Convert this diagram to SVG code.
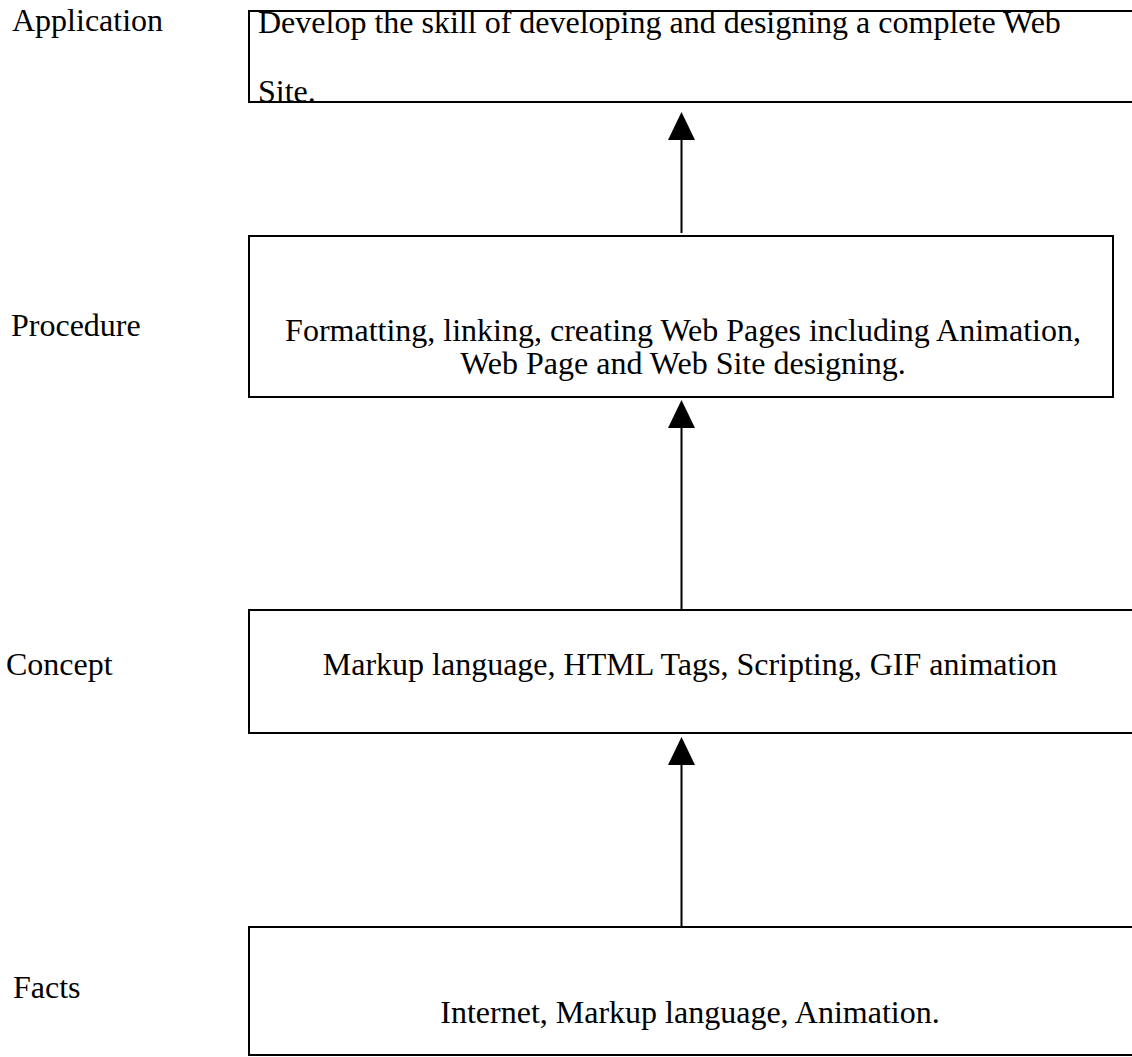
<svg xmlns="http://www.w3.org/2000/svg" width="1132" height="1057" viewBox="0 0 1132 1057">
<style>
  .box { fill: #fff; stroke: #000; stroke-width: 2; }
  .t { font-family: "Liberation Serif", "Times New Roman", serif; font-size: 32px; fill: #000; }
  .c { text-anchor: middle; }
  .conn { stroke: #000; stroke-width: 2; fill: none; }
  .head { fill: #000; }
</style>
<rect width="1132" height="1057" fill="#fff"/>

<g id="labels">
  <text class="t" x="12" y="31">Application</text>
  <text class="t" x="11" y="336">Procedure</text>
  <text class="t" x="6" y="675">Concept</text>
  <text class="t" x="13" y="998">Facts</text>
</g>

<g id="node-application">
  <path class="box" d="M1133,11 L249,11 L249,102 L1133,102"/>
  <text class="t" x="258" y="33">Develop the skill of developing and designing a complete Web</text>
  <text class="t" x="258" y="102">Site.</text>
  <path d="M249,102 L1133,102" stroke="#000" stroke-width="2"/>
</g>

<g id="node-procedure">
  <rect class="box" x="249" y="236" width="864" height="161"/>
  <text class="t c" x="683" y="341">Formatting, linking, creating Web Pages including Animation,</text>
  <text class="t c" x="683" y="374">Web Page and Web Site designing.</text>
</g>

<g id="node-concept">
  <path class="box" d="M1133,610 L249,610 L249,733 L1133,733"/>
  <text class="t c" x="690" y="675">Markup language, HTML Tags, Scripting, GIF animation</text>
</g>

<g id="node-facts">
  <path class="box" d="M1133,927 L249,927 L249,1055 L1133,1055"/>
  <text class="t c" x="690" y="1023">Internet, Markup language, Animation.</text>
</g>

<g id="connectors">
  <path class="conn" d="M681.5,233 L681.5,139"/>
  <polygon class="head" points="681.5,112 668,140 695,140"/>
  <path class="conn" d="M681.5,609 L681.5,427"/>
  <polygon class="head" points="681.5,400 668,428 695,428"/>
  <path class="conn" d="M681.5,926 L681.5,764"/>
  <polygon class="head" points="681.5,737 668,765 695,765"/>
</g>
</svg>
